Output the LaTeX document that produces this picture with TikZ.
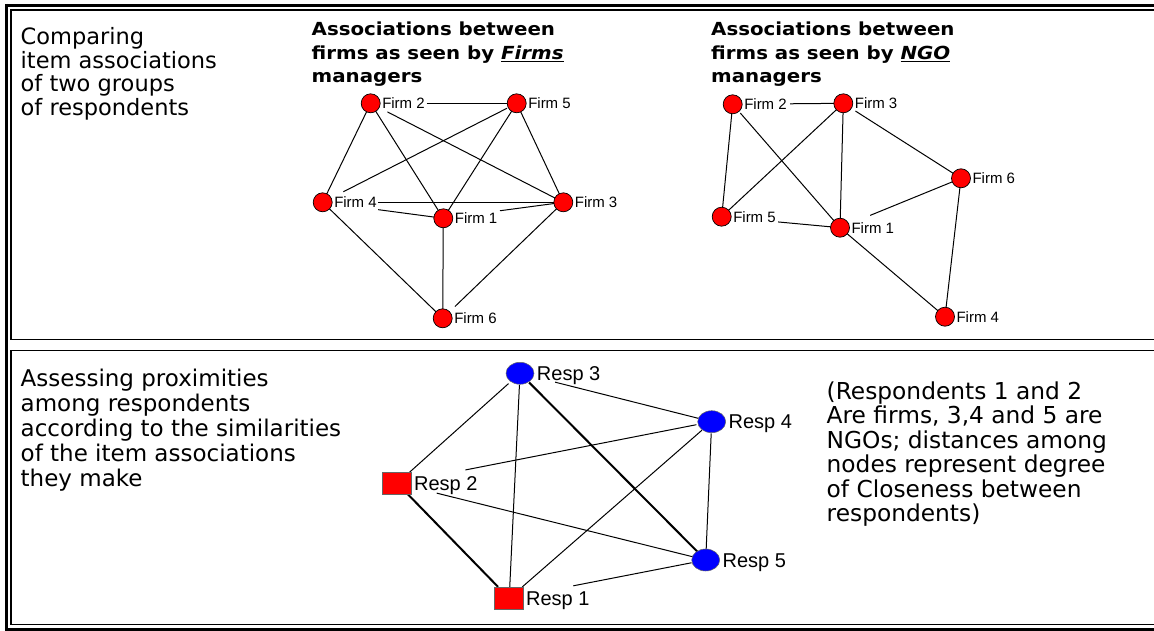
\documentclass[tikz,border=0pt]{standalone}
\usepackage{fontspec}
\setmainfont{DejaVu Sans}
\newfontfamily\lblfont{Liberation Sans}
\newfontfamily\ttlfont{DejaVu Sans}[FakeStretch=1.1]
\usetikzlibrary{calc,shapes.geometric}
\pgfdeclarelayer{edgelayer}
\pgfsetlayers{edgelayer,main}
\definecolor{nodered}{RGB}{255,0,0}
\definecolor{nodeblue}{RGB}{0,0,255}
\tikzset{
  firm/.style={circle, fill=nodered, draw=black, line width=0.7pt, minimum size=19pt, inner sep=0pt},
  respc/.style={ellipse, fill=nodeblue, draw=black!60, line width=0.5pt, minimum width=28pt, minimum height=22pt, inner sep=0pt},
  resps/.style={rectangle, fill=nodered, draw=black!60, line width=0.5pt, minimum width=29pt, minimum height=22pt, inner sep=0pt},
  flbl/.style={font=\lblfont\fontsize{15}{15}\selectfont, inner sep=0pt, anchor=base west},
  rlbl/.style={font=\lblfont\fontsize{20}{20}\selectfont, inner sep=0pt, anchor=base west},
  link/.style={line width=1pt},
  heavylink/.style={line width=2pt},
  txt/.style={inner sep=0pt, anchor=base west},
  outerframe/.style={line width=3pt},
  innerframe/.style={line width=1.8pt},
}
\begin{document}
\begin{tikzpicture}[x=1pt,y=-1pt]
\useasboundingbox (0,0) rectangle (1154,631);

% frames
\draw[outerframe] (6.5,4) -- (6.5,631);
\draw[outerframe] (5,5.5) -- (1154,5.5);
\draw[outerframe] (5,629.5) -- (1154,629.5);
\draw[innerframe] (1154,10) -- (11,10) -- (11,339.5) -- (1154,339.5);
\draw[innerframe] (1154,350.5) -- (11,350.5) -- (11,624.5) -- (1154,624.5);

% texts
\node[txt] (lefttop) at (20.5,45) {\parbox[t]{260pt}{\fontsize{22.5}{23.5}\selectfont Comparing\\ item associations\\ of two groups\\ of respondents}};
\node[txt] (title1) at (311.5,36) {\parbox[t]{320pt}{\ttlfont\bfseries\fontsize{18}{23.2}\selectfont Associations between\\ firms as seen by \underline{\textit{Firms}}\\ managers}};
\node[txt] (title2) at (711,36) {\parbox[t]{320pt}{\ttlfont\bfseries\fontsize{18}{23.2}\selectfont Associations between\\ firms as seen by \underline{\textit{NGO}}\\ managers}};
\node[txt] (leftbot) at (20.5,386.7) {\parbox[t]{380pt}{\fontsize{23}{25}\selectfont Assessing proximities\\ among respondents\\ according to the similarities\\ of the item associations\\ they make}};
\node[txt] (note) at (826.5,399.3) {\parbox[t]{326pt}{\fontsize{23.3}{24.5}\selectfont (Respondents 1 and 2\\ Are firms, 3,4 and 5 are\\ NGOs; distances among\\ nodes represent degree\\ of Closeness between\\ respondents)}};

% graph 1 (Firms managers)
\node[firm] (a2) at (370.7,103.3) {};
\node[firm] (a5) at (516.7,103.3) {};
\node[firm] (a4) at (322.7,202.3) {};
\node[firm] (a1) at (443.3,218.3) {};
\node[firm] (a3) at (563.3,202.3) {};
\node[firm] (a6) at (442.7,318.3) {};
\node[flbl] (la2) at ($(a2.east)+(1.5,5.4)$) {Firm 2};
\node[flbl] (la5) at ($(a5.east)+(1.5,5.4)$) {Firm 5};
\node[flbl] (la4) at ($(a4.east)+(1.5,5.4)$) {Firm 4};
\node[flbl] (la1) at ($(a1.east)+(1.5,5.4)$) {Firm 1};
\node[flbl] (la3) at ($(a3.east)+(1.5,5.4)$) {Firm 3};
\node[flbl] (la6) at ($(a6.east)+(1.5,5.4)$) {Firm 6};

% graph 2 (NGO managers)
\node[firm] (b2) at (732.7,104.3) {};
\node[firm] (b3) at (843.3,103.3) {};
\node[firm] (b6) at (961,178.3) {};
\node[firm] (b5) at (721.7,216.7) {};
\node[firm] (b1) at (840,227.7) {};
\node[firm] (b4) at (945,316.7) {};
\node[flbl] (lb2) at ($(b2.east)+(1.5,5.4)$) {Firm 2};
\node[flbl] (lb3) at ($(b3.east)+(1.5,5.4)$) {Firm 3};
\node[flbl] (lb6) at ($(b6.east)+(1.5,5.4)$) {Firm 6};
\node[flbl] (lb5) at ($(b5.east)+(1.5,5.4)$) {Firm 5};
\node[flbl] (lb1) at ($(b1.east)+(1.5,5.4)$) {Firm 1};
\node[flbl] (lb4) at ($(b4.east)+(1.5,5.4)$) {Firm 4};

% graph 3 (respondents)
\node[respc] (r3) at (520,373.3) {};
\node[respc] (r4) at (711.7,421.7) {};
\node[respc] (r5) at (705.7,560) {};
\node[resps] (r2) at (397.2,483.3) {};
\node[resps] (r1) at (509.2,598.3) {};
\node[rlbl] (lr3) at ($(r3.east)+(2.5,7.2)$) {Resp 3};
\node[rlbl] (lr4) at ($(r4.east)+(2.5,7.2)$) {Resp 4};
\node[rlbl] (lr5) at ($(r5.east)+(2.5,7.2)$) {Resp 5};
\node[rlbl] (lr2) at ($(r2.east)+(2,7.2)$) {Resp 2};
\node[rlbl] (lr1) at ($(r1.east)+(2,7.2)$) {Resp 1};

\begin{pgfonlayer}{edgelayer}
\fill[white] (0,0) rectangle (1154,631);
% graph 1 edges
\draw[link, shorten <=56pt] (a2.center) -- (a5.center);
\draw[link] (a2.center) -- (a4.center);
\draw[link] (a2.center) -- (a1.center);
\draw[link, shorten <=18.9pt] (a2.center) -- (a3.center);
\draw[link, shorten <=11pt, shorten >=23.2pt] (a5.center) -- (a4.center);
\draw[link] (a5.center) -- (a1.center);
\draw[link] (a5.center) -- (a3.center);
\draw[link, shorten <=55.6pt] (a4.center) -- (a3.center);
\draw[link, shorten <=56pt] (a4.center) -- (a1.center);
\draw[link, shorten <=57.2pt] (a1.center) -- (a3.center);
\draw[link] (a1.center) -- (a6.center);
\draw[link] (a4.center) -- (a6.center);
\draw[link, shorten >=17pt] (a3.center) -- (a6.center);
% graph 2 edges
\draw[link, shorten <=57.3pt] (b2.center) -- (b3.center);
\draw[link] (b2.center) -- (b5.center);
\draw[link, shorten <=11.6pt] (b2.center) -- (b1.center);
\draw[link] (b3.center) -- (b5.center);
\draw[link] (b3.center) -- (b1.center);
\draw[link, shorten <=14.4pt] (b3.center) -- (b6.center);
\draw[link, shorten >=32.6pt] (b6.center) -- (b1.center);
\draw[link] (b6.center) -- (b4.center);
\draw[link, shorten <=56.6pt] (b5.center) -- (b1.center);
\draw[link] (b1.center) -- (b4.center);
% graph 3 edges
\draw[link, shorten <=15.4pt, shorten >=15.3pt] (r3.center) -- (r2.center);
\draw[link, shorten <=11.7pt, shorten >=11pt] (r3.center) -- (r1.center);
\draw[heavylink, shorten <=13pt, shorten >=11.5pt] (r3.center) -- (r5.center);
\draw[link, shorten <=36.2pt, shorten >=13.8pt] (r3.center) -- (r4.center);
\draw[link, shorten <=15.6pt, shorten >=69.5pt] (r4.center) -- (r2.center);
\draw[link, shorten <=13pt, shorten >=17.3pt] (r4.center) -- (r1.center);
\draw[link, shorten <=11.6pt, shorten >=10.7pt] (r4.center) -- (r5.center);
\draw[link, shorten <=40.7pt, shorten >=12.8pt] (r2.center) -- (r5.center);
\draw[heavylink, shorten <=15.4pt, shorten >=16pt] (r2.center) -- (r1.center);
\draw[link, shorten <=14.4pt, shorten >=65.3pt] (r5.center) -- (r1.center);
\end{pgfonlayer}
\end{tikzpicture}
\end{document}
